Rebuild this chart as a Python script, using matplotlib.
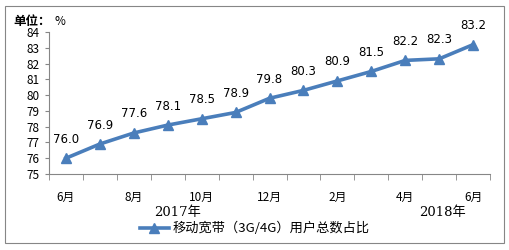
import matplotlib
matplotlib.use("Agg")
import matplotlib.pyplot as plt
from matplotlib.patches import Rectangle

plt.rcParams['font.family'] = ['Noto Sans CJK SC', 'DejaVu Sans']

months = ['6月', '7月', '8月', '9月', '10月', '11月', '12月',
          '1月', '2月', '3月', '4月', '5月', '6月']
share = [76.0, 76.9, 77.6, 78.1, 78.5, 78.9, 79.8, 80.3, 80.9, 81.5, 82.2, 82.3, 83.2]
years = ['2017年', '2018年']
series_name = '移动宽带（3G/4G）用户总数占比'

blue = '#4a7ebb'

fig = plt.figure(figsize=(5.1, 2.5), dpi=100)
ax = fig.add_axes([0.096, 0.304, 0.865, 0.568])

x = list(range(len(share)))
ax.plot(x, share, color=blue, lw=2.6, marker='^', ms=6.5, label=series_name)
for xi, v in zip(x, share):
    ax.annotate(f'{v:.1f}', (xi, v), xytext=(0, 9), textcoords='offset points',
                ha='center', va='bottom', fontsize=8.5, family='DejaVu Sans')

ax.set_xlim(-0.5, len(share) - 0.5)
ax.set_ylim(75, 84)
ax.set_yticks(range(75, 85))
ax.tick_params(axis='y', labelsize=8.5, length=3, direction='out', color='#868686')

# labels every other month, tick marks between categories
ax.set_xticks(x[::2])
ax.set_xticklabels(months[::2], fontsize=8.5)
ax.set_xticks([i - 0.5 for i in range(len(share) + 1)], minor=True)
ax.tick_params(axis='x', which='major', length=0, pad=12)
ax.tick_params(axis='x', which='minor', length=4, direction='out', color='#868686')

for s in ['top', 'right']:
    ax.spines[s].set_visible(False)
for s in ['left', 'bottom']:
    ax.spines[s].set_color('#868686')

# year labels
ax.text(3.3, -0.27, years[0], transform=ax.get_xaxis_transform(),
        ha='center', va='center', fontsize=9.5, family=['DejaVu Serif', 'Noto Sans CJK SC'])
ax.text(11.1, -0.27, years[1], transform=ax.get_xaxis_transform(),
        ha='center', va='center', fontsize=9.5, family=['DejaVu Serif', 'Noto Sans CJK SC'])

fig.text(0.027, 0.915, '单位：', fontsize=9, fontweight='bold', ha='left', va='center')
fig.text(0.107, 0.915, '%', fontsize=8.5, ha='left', va='center')

leg = fig.legend(loc='center', bbox_to_anchor=(0.5, 0.085), frameon=False,
                 fontsize=9.5, handlelength=2.2, handletextpad=0.3)

fig.patches.append(Rectangle((0.01, 0.028), 0.978, 0.95, transform=fig.transFigure,
                             fill=False, edgecolor='#868686', lw=0.8))

fig.savefig('out.png', dpi=100)
